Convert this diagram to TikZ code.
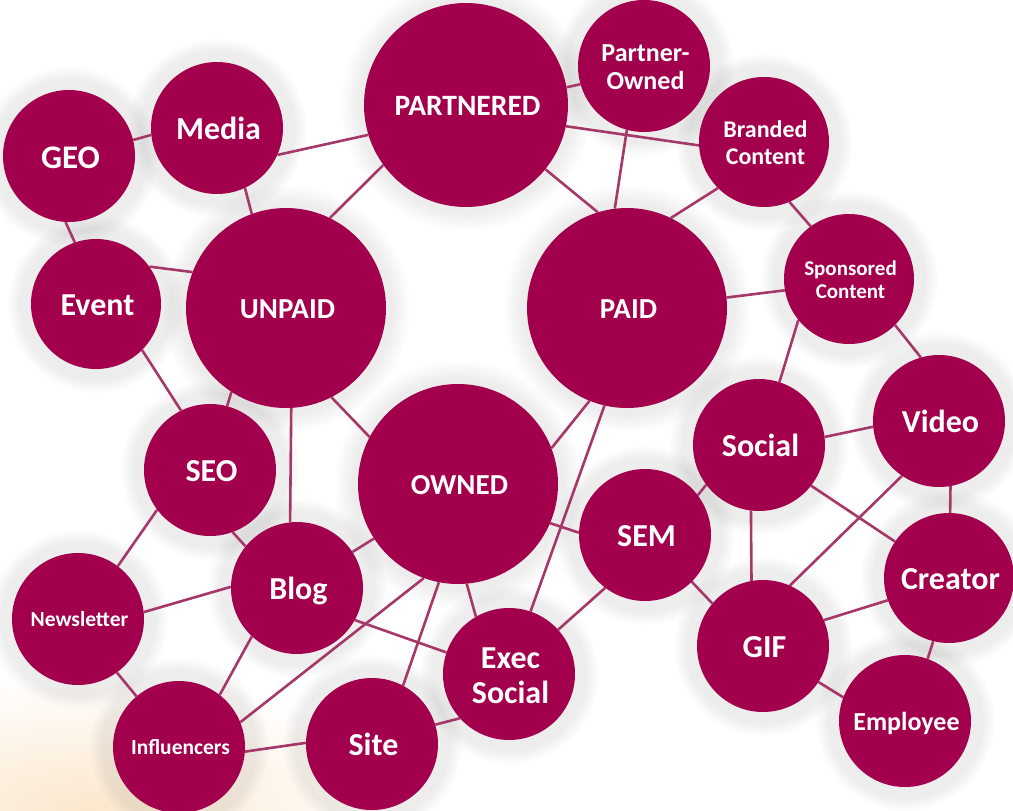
\documentclass[tikz,border=0pt]{standalone}
\usepackage{fontspec}
\setmainfont{Carlito}
\usetikzlibrary{fadings}
\definecolor{bub}{RGB}{162,0,76}
\definecolor{lnk}{RGB}{165,55,105}
\definecolor{peach}{RGB}{248,205,150}
\pgfdeclarelayer{glowlayer}
\pgfdeclarelayer{linklayer}
\pgfsetlayers{glowlayer,linklayer,main}
\tikzfading[name=softglow, inner color=transparent!52, outer color=transparent!100]
\tikzset{
  bubble/.style={circle,fill=bub,text=white,inner sep=0pt},
  link/.style={draw=lnk,line width=2.6pt},
  halo/.style={fill=black,fill opacity=.07,path fading=circle with fuzzy edge 15 percent}
}
\newcommand{\bub}[6]{%
  \begin{pgfonlayer}{glowlayer}
    \fill[halo] (#2,#3) circle ({#4+24});
  \end{pgfonlayer}
  \node[bubble,minimum size=#4*2pt,font=\bfseries\fontsize{#5}{1.1\dimexpr#5pt\relax}\selectfont] (#1) at (#2,#3)
    {\kern1.5pt\raisebox{-.15em}[\height][\depth]{\begin{tabular}{@{}c@{}}#6\end{tabular}}\kern-1.5pt};
}
\begin{document}
\begin{tikzpicture}[x=1pt,y=-1pt]
\useasboundingbox (0,0) rectangle (1013,811);
\begin{pgfonlayer}{glowlayer}
  \begin{scope}
    \clip (0,0) rectangle (1013,811);
    \fill[peach,path fading=softglow] (90,811) ellipse (320 and 135);
  \end{scope}
\end{pgfonlayer}
\bub{geo}{69}{156}{66}{33}{GEO}
\bub{media}{217}{128}{66}{32}{Media}
\bub{partnered}{466}{105}{102}{29.5}{PARTNERED}
\bub{powned}{644}{66}{66}{26}{Partner-\\Owned}
\bub{branded}{764}{142}{65}{24}{Branded\\Content}
\bub{sponsored}{849}{279}{65}{21}{Sponsored\\Content}
\bub{unpaid}{286}{308}{100}{29}{UNPAID}
\bub{event}{96}{304}{65}{32}{Event}
\bub{paid}{627}{308}{100}{29}{PAID}
\bub{seo}{210}{470}{66}{32}{SEO}
\bub{owned}{458}{484}{100}{29}{OWNED}
\bub{social}{759}{445}{66}{32}{Social}
\bub{video}{939}{421}{66}{32}{Video}
\bub{sem}{645}{535}{66}{32}{SEM}
\bub{blog}{297}{588}{66}{32}{Blog}
\bub{newsletter}{78}{619}{66}{21.5}{Newsletter}
\bub{creator}{949}{578}{65}{32}{Creator}
\bub{gif}{763}{646}{66}{32}{GIF}
\bub{employee}{905}{721}{66}{26}{Employee}
\bub{exec}{509}{674}{66}{32}{Exec\\Social}
\bub{site}{372}{744}{66}{32}{Site}
\bub{influencers}{179}{747}{66}{21.5}{Influencers}
\begin{pgfonlayer}{linklayer}
\foreach \a/\b in {geo.14/media.186,geo.267/event.109,media.-24/partnered.197.5,media.-65/unpaid.110,
  event.35/unpaid.159,event.-45/seo.116,unpaid.64/partnered.216.5,unpaid.237.6/seo.75,
  unpaid.-87/blog.96,unpaid.-63/owned.152,partnered.10/powned.196,partnered.-12.5/branded.183,
  partnered.-39/paid.107,powned.255/paid.97.5,branded.225/paid.64.5,branded.-67/sponsored.126,
  paid.6/sponsored.190,sponsored.219/social.72,sponsored.-45/video.106,paid.248/owned.21,
  paid.257.5/exec.71,owned.-23.5/sem.178,owned.213/blog.33,owned.275/exec.120,owned.259.6/site.62,
  owned.250.7/influencers.22,seo.-70.5/blog.141,seo.217.6/newsletter.53.6,newsletter.6/blog.179,
  newsletter.-54/influencers.130,blog.227/influencers.52,blog.-29/exec.161,influencers.-4/site.179,
  site.17.6/exec.222,sem.233/exec.42,sem.37.6/social.217,sem.-45/gif.140,social.7/video.185,
  social.-38/creator.146.5,social.263/gif.100,video.-80/creator.89,video.236/gif.66,
  gif.23/creator.200,gif.-33/employee.159,creator.256/employee.70}
  \draw[link] (\a) -- (\b);
\end{pgfonlayer}
\end{tikzpicture}
\end{document}
